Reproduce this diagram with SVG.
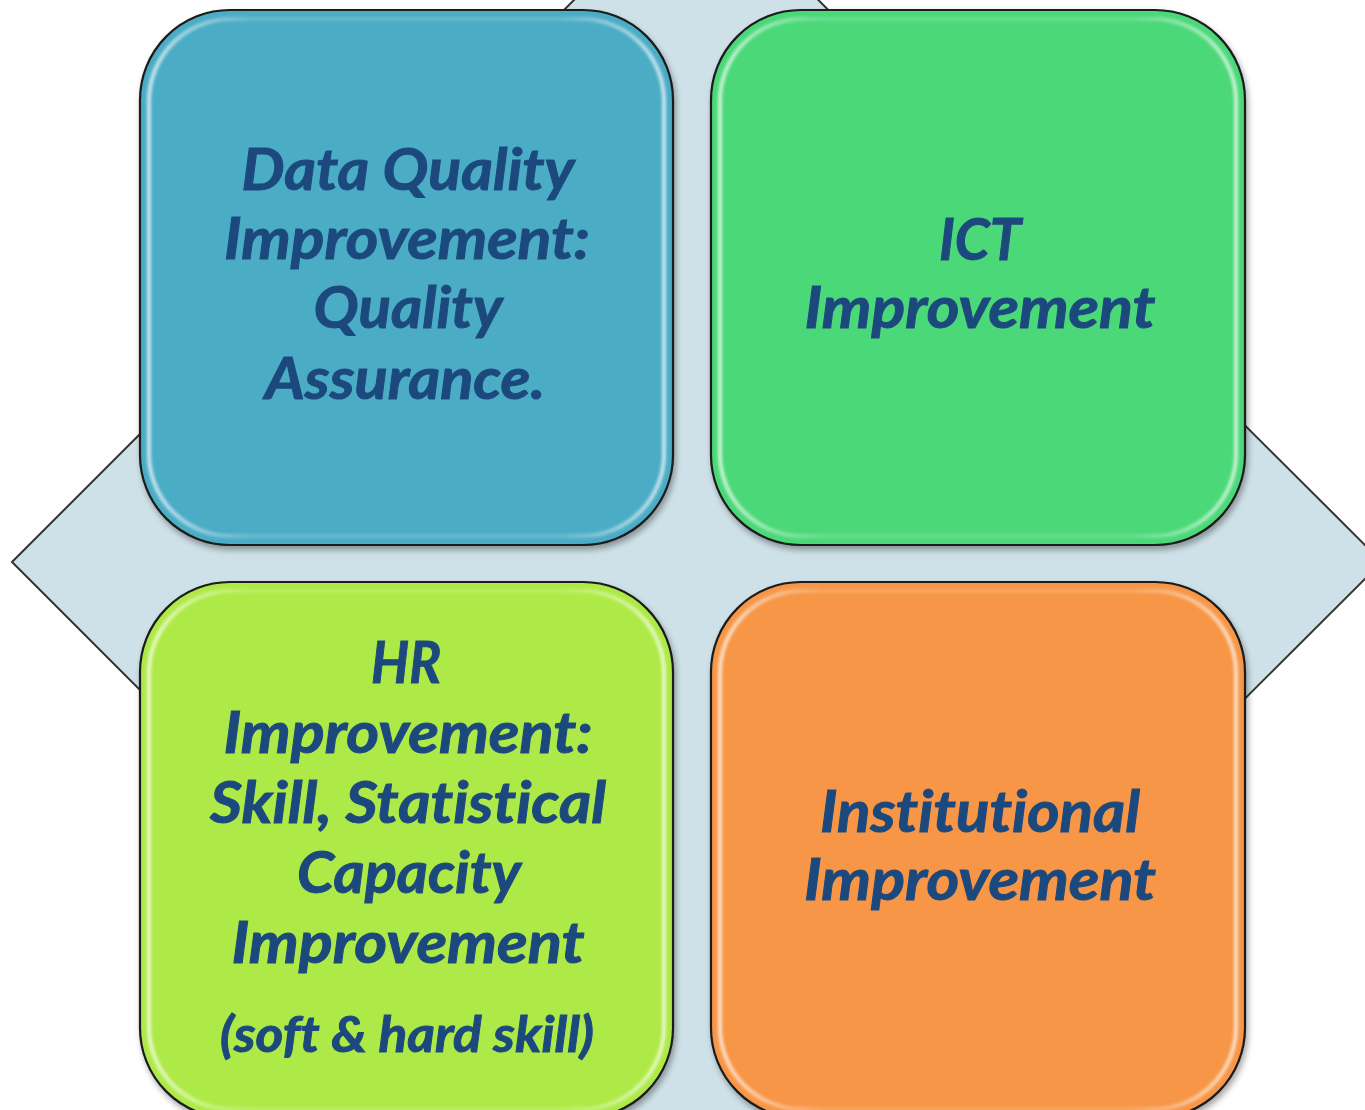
<svg xmlns="http://www.w3.org/2000/svg" width="1365" height="1110" viewBox="0 0 1365 1110">
<defs>
<filter id="shadow" x="-10%" y="-10%" width="120%" height="120%">
<feGaussianBlur in="SourceAlpha" stdDeviation="3"/>
<feOffset dx="2" dy="4" result="b"/>
<feComponentTransfer><feFuncA type="linear" slope="0.35"/></feComponentTransfer>
<feMerge><feMergeNode/><feMergeNode in="SourceGraphic"/></feMerge>
</filter>
<filter id="soft"><feGaussianBlur stdDeviation="1.6"/></filter>
<linearGradient id="gl" x1="0" y1="0" x2="1" y2="0">
<stop offset="0" stop-color="#fff" stop-opacity="0.7"/>
<stop offset="0.2" stop-color="#fff" stop-opacity="0.15"/>
<stop offset="0.8" stop-color="#fff" stop-opacity="0.15"/>
<stop offset="1" stop-color="#fff" stop-opacity="0.7"/>
</linearGradient>
</defs>
<style>
.bg{fill:#cfe1e8;stroke:#333333;stroke-width:2}
.box{stroke:#1a1a1a;stroke-width:2.2}
.gloss{fill:none;stroke:url(#gl);stroke-width:4}
.t{font-family:Lato,"Liberation Sans",sans-serif;font-weight:bold;font-style:italic;font-size:58px;fill:#1f497d;stroke:#1f497d;stroke-width:1;text-anchor:middle;font-variant-ligatures:none;font-feature-settings:"liga" 0}
.s{font-size:50px}
</style>
<polygon class="bg" points="12,562 696,-122 1382,562 696,1246"/>
<g id="data-quality" filter="url(#shadow)">
<rect class="box" x="140" y="10" width="533" height="535" rx="90" ry="90" fill="#4bacc6"/>
<rect class="gloss" x="149" y="19" width="515" height="517" rx="82" ry="82" filter="url(#soft)"/>
<text class="t" x="408" y="190" textLength="333" lengthAdjust="spacingAndGlyphs">Data Quality</text>
<text class="t" x="407" y="259" textLength="366" lengthAdjust="spacingAndGlyphs">Improvement:</text>
<text class="t" x="408" y="328" textLength="189" lengthAdjust="spacingAndGlyphs">Quality</text>
<text class="t" x="405" y="399" textLength="280" lengthAdjust="spacingAndGlyphs">Assurance.</text>
</g>
<g id="ict" filter="url(#shadow)">
<rect class="box" x="711" y="10" width="534" height="535" rx="90" ry="90" fill="#4bd878"/>
<rect class="gloss" x="720" y="19" width="516" height="517" rx="82" ry="82" filter="url(#soft)"/>
<text class="t" x="980" y="260" textLength="82" lengthAdjust="spacingAndGlyphs">ICT</text>
<text class="t" x="980" y="328" textLength="351" lengthAdjust="spacingAndGlyphs">Improvement</text>
</g>
<g id="hr" filter="url(#shadow)">
<rect class="box" x="140" y="582" width="533" height="536" rx="90" ry="90" fill="#aeea46"/>
<rect class="gloss" x="149" y="591" width="515" height="518" rx="82" ry="82" filter="url(#soft)"/>
<text class="t" x="406" y="683" textLength="70" lengthAdjust="spacingAndGlyphs">HR</text>
<text class="t" x="408" y="753" textLength="369" lengthAdjust="spacingAndGlyphs">Improvement:</text>
<text class="t" x="408" y="823" textLength="396" lengthAdjust="spacingAndGlyphs">Skill, Statistical</text>
<text class="t" x="409" y="893" textLength="224" lengthAdjust="spacingAndGlyphs">Capacity</text>
<text class="t" x="408" y="963" textLength="353" lengthAdjust="spacingAndGlyphs">Improvement</text>
<text class="t s" x="407" y="1052" textLength="374" lengthAdjust="spacingAndGlyphs">(soft &amp; hard skill)</text>
</g>
<g id="institutional" filter="url(#shadow)">
<rect class="box" x="711" y="582" width="534" height="536" rx="90" ry="90" fill="#f79646"/>
<rect class="gloss" x="720" y="591" width="516" height="518" rx="82" ry="82" filter="url(#soft)"/>
<text class="t" x="980" y="832" textLength="320" lengthAdjust="spacingAndGlyphs">Institutional</text>
<text class="t" x="980" y="900" textLength="352" lengthAdjust="spacingAndGlyphs">Improvement</text>
</g>
<g id="connectors"/>
</svg>
